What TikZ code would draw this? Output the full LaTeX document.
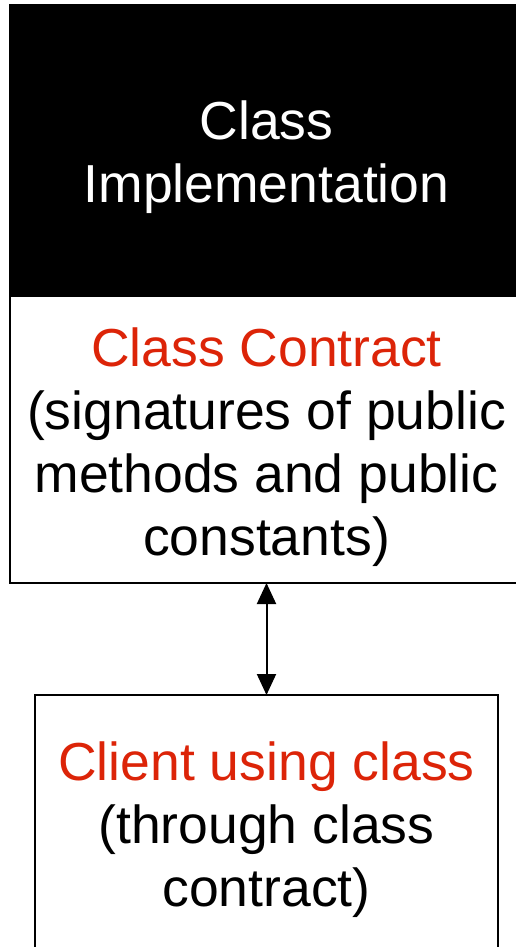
\documentclass[tikz,border=0pt]{standalone}
\usepackage{fontspec}
\setmainfont{Liberation Sans}
\usetikzlibrary{positioning,arrows.meta}
\definecolor{contractred}{RGB}{220,36,8}

\begin{document}
\begin{tikzpicture}[
    x=1pt, y=-1pt,
    box/.style = {draw, line width=2pt, anchor=north west, inner sep=0pt, outer sep=0pt},
    words/.style = {align=center, font=\fontsize{53.5}{63}\selectfont},
    > = {Triangle[length=21pt, width=19pt]}
]
\useasboundingbox (0,0) rectangle (516,947);

\node (implbox) [box, fill=black, minimum width=530pt, minimum height=290.5pt] at (10,5.5) {};
\node (contract) [box, minimum width=530pt, minimum height=287pt] at (10,296) {};
\node (client) [box, minimum width=463pt, minimum height=300pt] at (35,695) {};

\node (impltext) [words, text=white, yshift=-6.75pt] at (client.center |- implbox.center) {Class\\Implementation};
\node (contracttext) [words, yshift=-8pt] at (client.center |- contract.center)
    {\textcolor{contractred}{Class Contract}\\(signatures of public\\methods and public\\constants)};
\node (clienttext) [words, yshift=-134.5pt] at (client.north)
    {\textcolor{contractred}{Client using class}\\(through class\\contract)};

\draw[<->, line width=2pt] (contract.south -| client.north) to (client.north);
\end{tikzpicture}
\end{document}
